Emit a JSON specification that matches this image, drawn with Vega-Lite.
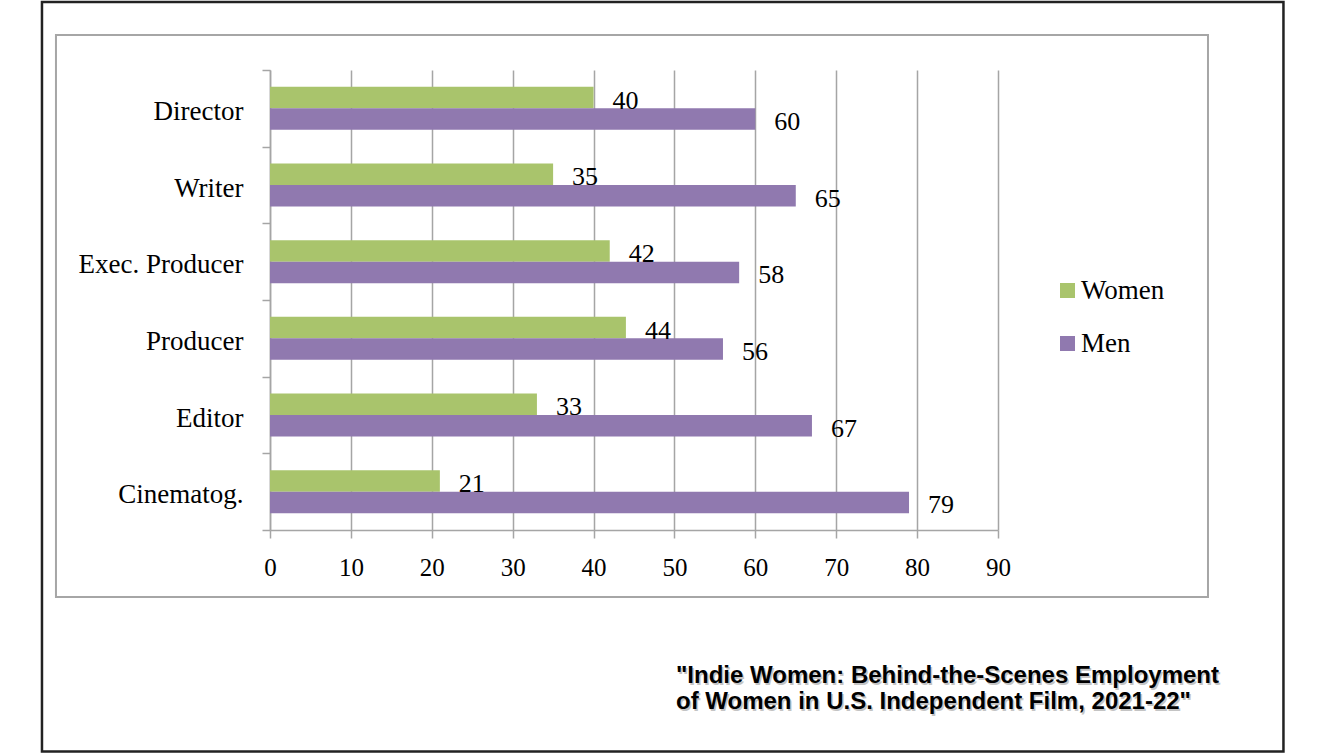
{
  "$schema": "https://vega.github.io/schema/vega-lite/v6.json",
  "description": "Share of women and men in behind-the-scenes roles, U.S. independent film 2021-22.",
  "width": 728,
  "height": 460,
  "autosize": "none",
  "padding": {"left": 270, "top": 70, "right": 328, "bottom": 224},
  "background": "white",
  "resolve": {"scale": {"y": "independent"}},
  "layer": [
    {
      "data": {"values": [{}]},
      "mark": {"type": "rect", "filled": false, "stroke": "#a6a6a6", "strokeWidth": 2},
      "encoding": {
        "x": {"datum": -26.46, "type": "quantitative", "scale": {"domain": [0, 90], "nice": false}},
        "x2": {"datum": 115.96},
        "y": {"datum": -0.4565, "type": "quantitative", "scale": {"domain": [0, 6], "reverse": true, "nice": false, "zero": false}, "axis": null},
        "y2": {"datum": 6.874}
      }
    },
    {
      "data": {"values": [{}]},
      "mark": {"type": "rect", "filled": false, "stroke": "#222222", "strokeWidth": 2.5},
      "encoding": {
        "x": {"datum": -28.19, "type": "quantitative", "scale": {"domain": [0, 90], "nice": false}},
        "x2": {"datum": 125.29},
        "y": {"datum": -0.887, "type": "quantitative", "scale": {"domain": [0, 6], "reverse": true, "nice": false, "zero": false}, "axis": null},
        "y2": {"datum": 8.889}
      }
    },
    {
      "data": {"values": [{}]},
      "mark": {
        "type": "text",
        "text": ["\"Indie Women: Behind-the-Scenes Employment", "of Women in U.S. Independent Film, 2021-22\""],
        "font": "Liberation Sans", "fontWeight": "bold", "fontSize": 24, "lineHeight": 26,
        "align": "left", "baseline": "alphabetic", "color": "#c4c4c4", "dx": 1.5, "dy": 1.5
      },
      "encoding": {
        "x": {"datum": 50.19, "type": "quantitative", "scale": {"domain": [0, 90], "nice": false}},
        "y": {"datum": 8.0, "type": "quantitative", "scale": {"domain": [0, 6], "reverse": true, "nice": false, "zero": false}, "axis": null}
      }
    },
    {
      "data": {"values": [{}]},
      "mark": {
        "type": "text",
        "text": ["\"Indie Women: Behind-the-Scenes Employment", "of Women in U.S. Independent Film, 2021-22\""],
        "font": "Liberation Sans", "fontWeight": "bold", "fontSize": 24, "lineHeight": 26,
        "align": "left", "baseline": "alphabetic", "color": "black"
      },
      "encoding": {
        "x": {"datum": 50.19, "type": "quantitative", "scale": {"domain": [0, 90], "nice": false}},
        "y": {"datum": 8.0, "type": "quantitative", "scale": {"domain": [0, 6], "reverse": true, "nice": false, "zero": false}, "axis": null}
      }
    },
    {
      "data": {
        "values": [
          {"role": "Director", "sex": "Women", "pct": 40},
          {"role": "Director", "sex": "Men", "pct": 60},
          {"role": "Writer", "sex": "Women", "pct": 35},
          {"role": "Writer", "sex": "Men", "pct": 65},
          {"role": "Exec. Producer", "sex": "Women", "pct": 42},
          {"role": "Exec. Producer", "sex": "Men", "pct": 58},
          {"role": "Producer", "sex": "Women", "pct": 44},
          {"role": "Producer", "sex": "Men", "pct": 56},
          {"role": "Editor", "sex": "Women", "pct": 33},
          {"role": "Editor", "sex": "Men", "pct": 67},
          {"role": "Cinematog.", "sex": "Women", "pct": 21},
          {"role": "Cinematog.", "sex": "Men", "pct": 79}
        ]
      },
      "encoding": {
        "y": {
          "field": "role", "type": "nominal", "title": null,
          "sort": ["Director", "Writer", "Exec. Producer", "Producer", "Editor", "Cinematog."],
          "scale": {"paddingInner": 0, "paddingOuter": 0},
          "axis": {
            "tickBand": "extent", "tickSize": 8, "tickColor": "#a5a5a5", "tickWidth": 1.5,
            "domainColor": "#a5a5a5", "domainWidth": 1.5,
            "labelFont": "Liberation Serif", "labelFontSize": 27, "labelColor": "black",
            "labelPadding": 19, "labelOffset": 3
          }
        },
        "yOffset": {
          "field": "sex", "sort": ["Women", "Men"],
          "scale": {"paddingInner": 0, "paddingOuter": 0.783}
        },
        "x": {
          "field": "pct", "type": "quantitative", "title": null,
          "scale": {"domain": [0, 90], "nice": false},
          "axis": {
            "values": [0, 10, 20, 30, 40, 50, 60, 70, 80, 90],
            "grid": true, "gridColor": "#a5a5a5", "gridWidth": 1.5,
            "tickSize": 8, "tickColor": "#a5a5a5", "tickWidth": 1.5,
            "domainColor": "#a5a5a5", "domainWidth": 1.5,
            "labelFont": "Liberation Serif", "labelFontSize": 25, "labelColor": "black",
            "labelPadding": 17, "labelFlush": false
          }
        }
      },
      "layer": [
        {
          "mark": {"type": "bar"},
          "encoding": {
            "color": {
              "field": "sex", "type": "nominal", "title": null,
              "scale": {"domain": ["Women", "Men"], "range": ["#a9c46c", "#9079af"]},
              "legend": {
                "orient": "none", "legendX": 784, "legendY": 207,
                "symbolType": "square", "symbolSize": 225, "symbolStrokeWidth": 0, "symbolOpacity": 1,
                "labelFont": "Liberation Serif", "labelFontSize": 27, "labelColor": "black",
                "labelOffset": 0, "rowPadding": 25, "padding": 0
              }
            }
          }
        },
        {
          "mark": {
            "type": "text", "align": "left", "baseline": "middle", "dx": 19, "dy": 3,
            "font": "Liberation Serif", "fontSize": 26, "color": "black"
          },
          "encoding": {
            "text": {"field": "pct", "type": "quantitative"}
          }
        }
      ]
    }
  ],
  "config": {
    "view": {"stroke": null}
  }
}
